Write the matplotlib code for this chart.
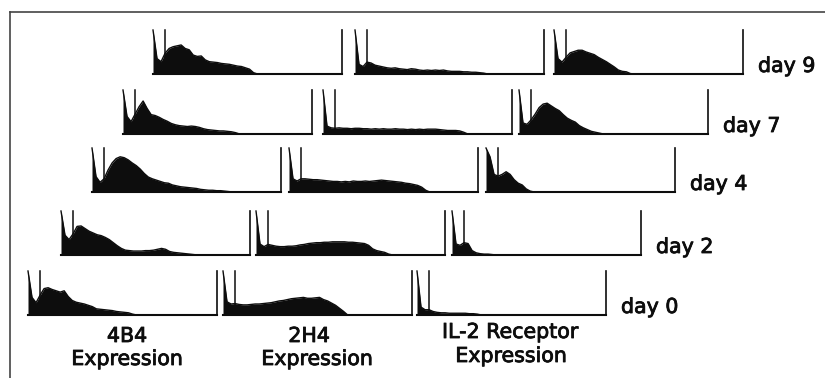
import numpy as np
import matplotlib
matplotlib.use("Agg")
import matplotlib.pyplot as plt
import matplotlib.patheffects as pe

days = ["day 9", "day 7", "day 4", "day 2", "day 0"]

# relative cell number per channel (100 = off scale), channels past the list are empty
b4_day9 = [100, 35, 28, 47, 58, 62, 64, 66, 58, 55, 43, 40, 41, 32, 28, 27, 26, 24, 23, 22,
           20, 18, 17, 14, 11, 3, 0]
h4_day9 = [100, 22, 17, 27, 25, 20, 18, 16, 14, 13, 14, 12, 11, 10, 12, 11, 9, 8, 9, 8,
           9, 8, 9, 7, 6, 6, 6, 5, 5, 4, 4, 3, 2, 0]
il2_day9 = [100, 35, 27, 38, 48, 51, 54, 54, 50, 47, 44, 38, 33, 28, 22, 16, 9, 6, 5, 1, 0]

b4_day7 = [100, 40, 28, 45, 62, 75, 58, 44, 42, 38, 33, 29, 24, 21, 19, 18, 17, 18, 17, 15,
           12, 10, 9, 8, 7, 7, 6, 5, 3, 0]
h4_day7 = [100, 18, 14, 13, 14, 13, 13, 12, 13, 13, 12, 12, 11, 12, 11, 12, 11, 11, 12, 11,
           11, 10, 11, 10, 11, 10, 11, 11, 11, 10, 9, 8, 8, 8, 7, 4, 0]
il2_day7 = [100, 25, 22, 32, 45, 60, 68, 70, 64, 58, 53, 44, 36, 31, 27, 19, 14, 10, 6, 4, 2, 0]

b4_day4 = [100, 35, 22, 30, 50, 66, 76, 80, 78, 73, 66, 60, 52, 42, 34, 30, 27, 24, 21, 20,
           16, 14, 12, 11, 10, 9, 8, 6, 5, 4, 4, 3, 3, 2, 1, 0]
h4_day4 = [100, 30, 25, 30, 30, 29, 28, 28, 27, 26, 25, 24, 24, 23, 24, 23, 25, 24, 24, 25,
           24, 25, 26, 27, 26, 25, 24, 23, 22, 20, 19, 17, 15, 11, 4, 0]
il2_day4 = [100, 80, 40, 36, 40, 46, 40, 28, 20, 16, 7, 2, 0]

b4_day2 = [100, 45, 35, 48, 65, 66, 60, 54, 50, 46, 44, 40, 35, 28, 21, 15, 11, 10, 9, 9,
           9, 10, 10, 11, 13, 15, 13, 8, 6, 5, 4, 3, 2, 1, 0]
h4_day2 = [100, 25, 19, 24, 22, 20, 19, 19, 20, 20, 21, 23, 24, 26, 27, 28, 28, 29, 29, 30,
           30, 30, 30, 29, 29, 28, 27, 26, 22, 14, 10, 8, 6, 2, 0]
il2_day2 = [100, 25, 22, 28, 26, 10, 5, 3, 2, 2, 1, 0]

b4_day0 = [100, 40, 28, 45, 60, 62, 58, 55, 52, 55, 42, 33, 29, 27, 25, 22, 19, 14, 13, 12,
           11, 10, 8, 7, 6, 5, 2, 0]
h4_day0 = [100, 30, 25, 26, 24, 23, 23, 24, 25, 25, 26, 27, 28, 30, 32, 33, 35, 37, 38, 39,
           40, 38, 38, 39, 40, 35, 32, 27, 22, 15, 8, 0]
il2_day0 = [100, 18, 12, 12, 8, 6, 5, 5, 4, 4, 4, 4, 4, 3, 3, 2, 0]

profiles = [
    [b4_day9, h4_day9, il2_day9],
    [b4_day7, h4_day7, il2_day7],
    [b4_day4, h4_day4, il2_day4],
    [b4_day2, h4_day2, il2_day2],
    [b4_day0, h4_day0, il2_day0],
]

N_CH = 47          # last channel of each histogram
GATE = 2.9         # marker channel

# layout in pixels (from top-left of the figure)
W, H = 825, 378
PANEL_W, PANEL_H = 189, 44
row_base = [74, 134, 192, 255, 315]
row_x0 = [[153, 355, 554], [123, 323, 519], [92, 289, 486], [61, 256, 452], [28, 223, 417]]

ink = "#0d0d0d"
heavy = [pe.withStroke(linewidth=0.6, foreground=ink)]

fig = plt.figure(figsize=(W / 100, H / 100), dpi=100)

# outer frame: only top and left edges show
frame = fig.add_axes([10 / W, 0, 1 - 10 / W, (H - 12) / H])
frame.set_xticks([])
frame.set_yticks([])
for side in ["right", "bottom"]:
    frame.spines[side].set_visible(False)
for side in ["top", "left"]:
    frame.spines[side].set_color("#444444")
    frame.spines[side].set_linewidth(1.2)
frame.patch.set_alpha(0)

for r, day in enumerate(days):
    base = row_base[r]
    for c in range(3):
        x0 = row_x0[r][c]
        ax = fig.add_axes([x0 / W, (H - base) / H, PANEL_W / W, PANEL_H / H])
        ax.set_xlim(0, N_CH)
        ax.set_ylim(0, 100)
        ax.axis("off")
        vals = np.zeros(N_CH + 1)
        prof = profiles[r][c]
        vals[:len(prof)] = prof
        ch = np.arange(N_CH + 1)
        ax.fill_between(ch, 0, vals, color=ink, lw=0, clip_on=False)
        ax.plot(ch, vals, color=ink, lw=1.0, clip_on=False)
        ax.plot([0, N_CH], [0, 0], color=ink, lw=1.5, clip_on=False)
        ax.plot([N_CH, N_CH], [0, 100], color=ink, lw=1.2, clip_on=False)
        ax.plot([GATE, GATE], [0, 100], color=ink, lw=1.1, clip_on=False)
    fig.text((row_x0[r][2] + PANEL_W + 15) / W, (H - base + 2) / H, day,
             fontsize=14.8, color=ink, va="baseline", ha="left", path_effects=heavy)

# axis captions under each column
captions = [
    [("4B4", 127, 342), ("Expression", 127, 365)],
    [("2H4", 309, 342), ("Expression", 317, 365)],
    [("IL-2 Receptor", 510, 338), ("Expression", 511, 362)],
]
for lines in captions:
    for txt, cx, by in lines:
        fig.text(cx / W, (H - by) / H, txt, fontsize=14.8, color=ink,
                 ha="center", va="baseline", path_effects=heavy)

fig.savefig("out.png", dpi=100)
